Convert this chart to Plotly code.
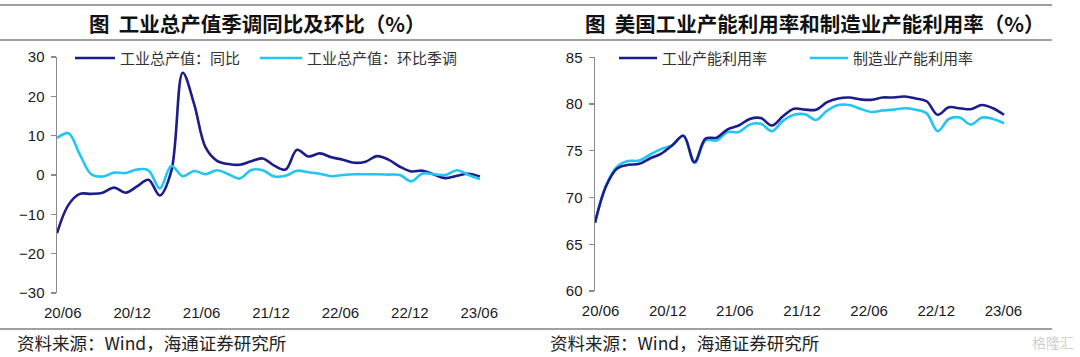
import plotly.graph_objects as go

# ---------------- data ----------------
months = [f"{2020 + (m - 1) // 12}-{(m - 1) % 12 + 1:02d}" for m in range(5, 5 + 38)]  # 2020-05 .. 2023-06
tick_labels = ["20/06", "20/12", "21/06", "21/12", "22/06", "22/12", "23/06"]

# 工业总产值：同比 (%)
ip_yoy = [-14.8, -7.6, -4.8, -4.8, -4.5, -3.2, -4.5, -2.9, -1.2, -5.2,
          1.0, 26.0, 18.0, 7.0, 3.6, 2.8, 2.6, 3.5, 4.2, 2.4,
          1.4, 6.4, 4.7, 5.5, 4.5, 3.9, 3.1, 3.4, 4.8, 3.9,
          2.1, 0.9, 1.1, 0.1, -0.8, -0.2, 0.3, -0.4]
# 工业总产值：环比季调 (%)
ip_mom = [9.4, 10.6, 5.2, 0.2, -0.4, 0.6, 0.5, 1.4, 1.2, -3.4,
          2.3, -0.3, 1.0, 0.2, 1.2, 0.2, -0.9, 1.3, 1.2, -0.4,
          -0.2, 1.1, 0.7, 0.3, -0.3, 0.0, 0.2, 0.2, 0.2, 0.1,
          0.0, -1.6, 0.4, 0.2, 0.0, 1.2, 0.0, -1.0]
# 工业产能利用率 (%)
cu_total = [67.3, 71.2, 73.1, 73.5, 73.6, 74.2, 74.7, 75.6, 76.6, 73.8,
            76.3, 76.4, 77.3, 77.7, 78.4, 78.5, 77.7, 78.7, 79.5, 79.4,
            79.4, 80.2, 80.6, 80.7, 80.5, 80.45, 80.7, 80.7, 80.8, 80.6,
            80.3, 78.85, 79.65, 79.55, 79.45, 79.9, 79.55, 78.85]
# 制造业产能利用率 (%)
cu_mfg = [67.3, 71.3, 73.3, 73.9, 73.95, 74.6, 75.2, 75.6, 76.6, 73.7,
          76.1, 76.1, 77.0, 77.0, 77.8, 77.9, 77.1, 78.2, 78.85, 78.9,
          78.3, 79.3, 79.9, 79.9, 79.5, 79.15, 79.3, 79.4, 79.55, 79.4,
          79.0, 77.1, 78.4, 78.55, 77.8, 78.55, 78.4, 77.95]

# ---------------- style / layout constants ----------------
W, H = 1080, 357
DARK = "#1c1c8c"
LIGHT = "#22c5f3"
AXIS = "#8a8a8a"
RULE = "#808080"
CJK = "Noto Sans CJK SC"
LAT = "Liberation Sans, Arial"

S = 0.988                      # axis units per data step
xidx = list(range(len(months)))
tick_pos = [6 * k / S for k in range(7)]
label_pos = [(6 * k + 0.5) / S for k in range(7)]
xr = [0, 37.0 / S]


def px(x):
    return x / W


def py(y):
    return 1 - y / H


Lx = [px(57), px(485)]
Rx = [px(595), px(1009)]
Ly = [py(293), py(57)]
Ry = [py(291), py(57.3)]
zero_pos = Ly[0] + (Ly[1] - Ly[0]) * 0.5

fig = go.Figure()
line_w = 2.6
fig.add_trace(go.Scatter(x=xidx, y=ip_yoy, mode="lines", name="工业总产值：同比",
                         line=dict(color=DARK, width=line_w, shape="spline", smoothing=1.0),
                         xaxis="x", yaxis="y", showlegend=False, hoverinfo="skip"))
fig.add_trace(go.Scatter(x=xidx, y=ip_mom, mode="lines", name="工业总产值：环比季调",
                         line=dict(color=LIGHT, width=line_w, shape="spline", smoothing=1.0),
                         xaxis="x", yaxis="y", showlegend=False, hoverinfo="skip"))
fig.add_trace(go.Scatter(x=xidx, y=cu_mfg, mode="lines", name="制造业产能利用率",
                         line=dict(color=LIGHT, width=line_w, shape="spline", smoothing=1.0),
                         xaxis="x3", yaxis="y2", showlegend=False, hoverinfo="skip"))
fig.add_trace(go.Scatter(x=xidx, y=cu_total, mode="lines", name="工业产能利用率",
                         line=dict(color=DARK, width=line_w, shape="spline", smoothing=1.0),
                         xaxis="x3", yaxis="y2", showlegend=False, hoverinfo="skip"))

tickfont = dict(family=LAT, size=15, color="#1a1a1a")

common_lbl = dict(range=xr, tickmode="array", tickvals=label_pos, ticktext=tick_labels,
                  ticks="", showline=False, showgrid=False, zeroline=False,
                  tickfont=tickfont, ticklabelstandoff=9, automargin=False)
common_tck = dict(range=xr, tickmode="array", tickvals=tick_pos, ticks="outside",
                  ticklen=5, tickwidth=1.3, tickcolor=AXIS, showticklabels=False,
                  showline=True, linecolor=AXIS, linewidth=1.5, showgrid=False,
                  zeroline=False, automargin=False)
common_y = dict(tickmode="array", ticks="outside", ticklen=5, tickwidth=1.3, tickcolor=AXIS,
                showline=True, linecolor=AXIS, linewidth=1.5, showgrid=False,
                zeroline=False, tickfont=tickfont, automargin=False, ticklabelstandoff=3)

fig.update_layout(
    width=W, height=H, margin=dict(l=0, r=0, t=0, b=0, autoexpand=False),
    paper_bgcolor="white", plot_bgcolor="white",
    xaxis=dict(domain=Lx, anchor="y", **common_lbl),
    xaxis2=dict(overlaying="x", anchor="free", position=zero_pos, **common_tck),
    yaxis=dict(domain=Ly, anchor="x", range=[-30, 30],
               tickvals=[-30, -20, -10, 0, 10, 20, 30], **common_y),
    xaxis3=dict(domain=Rx, anchor="y2", **common_lbl),
    xaxis4=dict(overlaying="x3", anchor="y2", **common_tck),
    yaxis2=dict(domain=Ry, anchor="x3", range=[60, 85],
                tickvals=[60, 65, 70, 75, 80, 85], **common_y),
)

shapes = []
# horizontal rules
for y in (5, 40, 329):
    shapes.append(dict(type="line", xref="paper", yref="paper", x0=0, x1=px(1052),
                       y0=py(y), y1=py(y), line=dict(color=RULE, width=1.6)))

# legends (sample lines + text)
legend_items = [
    (75, 115, 58, DARK, "工业总产值：同比"),
    (260, 302, 58, LIGHT, "工业总产值：环比季调"),
    (619, 657, 58, DARK, "工业产能利用率"),
    (810, 848, 58, LIGHT, "制造业产能利用率"),
]
annotations = []
for x0, x1, y, col, txt in legend_items:
    shapes.append(dict(type="line", xref="paper", yref="paper", x0=px(x0), x1=px(x1),
                       y0=py(y), y1=py(y), line=dict(color=col, width=2.6)))
    annotations.append(dict(xref="paper", yref="paper", x=px(x1 + 3), y=py(y), text=txt,
                            showarrow=False, xanchor="left", yanchor="middle",
                            font=dict(family=CJK, size=15, color="#333333")))

# titles
annotations.append(dict(xref="paper", yref="paper", x=px(257), y=py(23),
                        text="<b>图  工业总产值季调同比及环比（%）</b>", showarrow=False,
                        xanchor="center", yanchor="middle",
                        font=dict(family=CJK, size=20.5, color="#111111")))
annotations.append(dict(xref="paper", yref="paper", x=px(815), y=py(23),
                        text="<b>图  美国工业产能利用率和制造业产能利用率（%）</b>", showarrow=False,
                        xanchor="center", yanchor="middle",
                        font=dict(family=CJK, size=20.5, color="#111111")))
# sources
for x in (15, 548):
    annotations.append(dict(xref="paper", yref="paper", x=px(x), y=py(342),
                            text="资料来源：Wind，海通证券研究所", showarrow=False,
                            xanchor="left", yanchor="middle",
                            font=dict(family=CJK, size=17.5, color="#222222")))
annotations.append(dict(xref="paper", yref="paper", x=px(1076), y=py(342),
                        text="格隆汇", showarrow=False, xanchor="right", yanchor="middle",
                        font=dict(family=CJK, size=14, color="#d0d0d0")))

fig.update_layout(shapes=shapes, annotations=annotations)
fig.write_html("out.html",
               config={"displayModeBar": False, "staticPlot": True},
               post_script="document.body.style.margin='0';document.body.style.overflow='hidden';")
